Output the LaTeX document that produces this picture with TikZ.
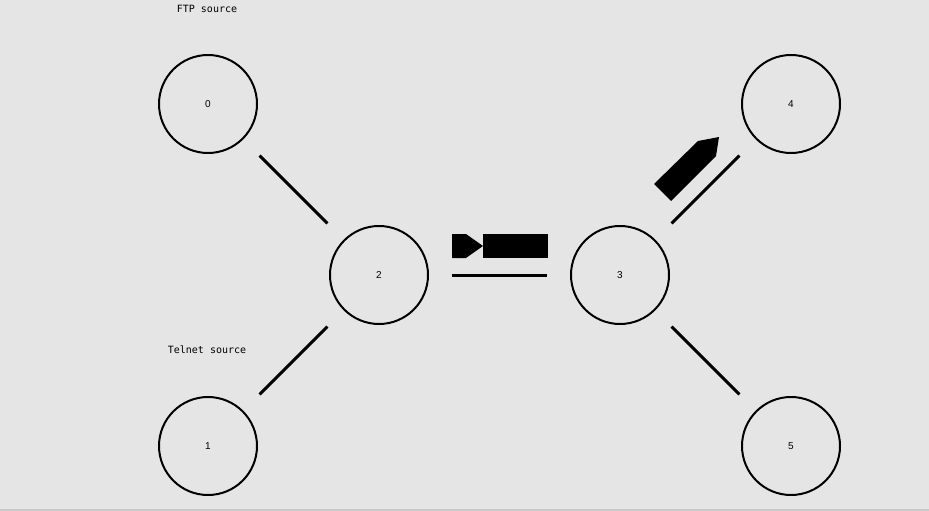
\documentclass[tikz,border=0pt]{standalone}
\usepackage{fontspec}
\setmainfont{DejaVu Sans Mono}
\newfontfamily\digitfont{Liberation Sans}
\usetikzlibrary{positioning}
\definecolor{nambg}{RGB}{229,229,229}
\definecolor{namedge}{RGB}{200,200,200}
\begin{document}
\begin{tikzpicture}[x=1pt,y=-1pt]
    % Styles
    \tikzstyle{nsnode} = [circle, draw, line width=2pt, minimum size=98pt, inner sep=0pt, font=\digitfont\fontsize{10}{11}\selectfont]
    \tikzstyle{link} = [line width=3pt, shorten <=73pt, shorten >=73pt]
    \tikzstyle{caption} = [font=\fontsize{10}{12}\selectfont]

    % Background
    \fill[nambg] (0,0) rectangle (929,511);
    \fill[namedge] (0,509) rectangle (929,511);
    \useasboundingbox (0,0) rectangle (929,511);

    % Nodes
    \node[nsnode] (n0) at (208,104) {0};
    \node[nsnode] (n1) at (208,446) {1};
    \node[nsnode] (n2) at (379,275) {2};
    \node[nsnode] (n3) at (620,275) {3};
    \node[nsnode] (n4) at (791,104) {4};
    \node[nsnode] (n5) at (791,446) {5};

    % Sources
    \node[caption] (ftp) at (207,9) {FTP source};
    \node[caption] (telnet) at (207,350) {Telnet source};

    % Links
    \draw[link] (n0.center) -- (n2.center);
    \draw[link] (n1.center) -- (n2.center);
    \draw[link] (n2.center) -- (n3.center);
    \draw[link] (n3.center) -- (n4.center);
    \draw[link] (n3.center) -- (n5.center);

    % Packets in flight
    \fill (452,234) -- (466,234) -- (483,246) -- (466,258) -- (452,258) -- cycle;
    \fill (483,234) rectangle (548,258);
    \fill (654,184) -- (671,201) -- (716,156) -- (719,137) -- (698,141) -- cycle;
\end{tikzpicture}
\end{document}
